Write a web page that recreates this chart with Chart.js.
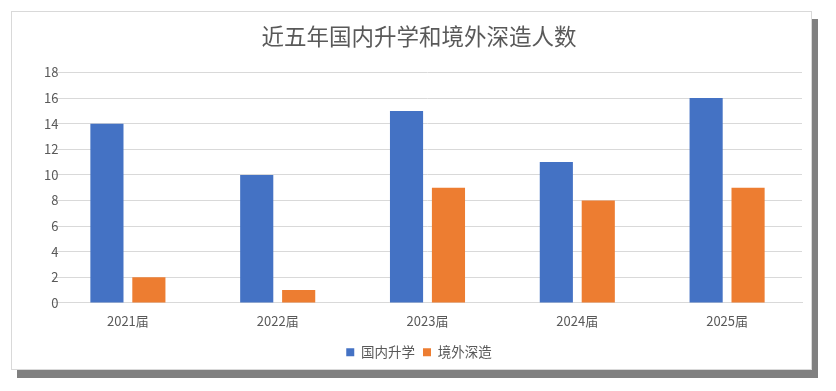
<!DOCTYPE html>
<html>
<head>
<meta charset="utf-8">
<script src="https://cdn.jsdelivr.net/npm/chart.js@4"></script>
<style>
    html, body { margin: 0; padding: 0; background: #fff; }
    #box {
        position: absolute; left: 11px; top: 11px;
        width: 801px; height: 359px; box-sizing: border-box;
        border: 1px solid #d9d9d9; background: #fff;
        box-shadow: 6px 8px 0 #808080;
    }
    #myChart { display: block; }
</style>
</head>
<body>
<div id="box"><canvas id="myChart" width="799" height="357"></canvas></div>
<script>
// datos
const categorias = ['2021届', '2022届', '2023届', '2024届', '2025届'];
const nombresSeries = ['国内升学', '境外深造'];
const guonei = [14, 10, 15, 11, 16];
const jingwai = [2, 1, 9, 8, 9];

const fuente = '"Noto Sans CJK SC", "Noto Sans", sans-serif';
const gris = '#595959';

const ctx = document.getElementById('myChart').getContext('2d');
const chart = new Chart(ctx, {
    type: 'bar',
    data: {
        labels: categorias,
        datasets: [{
            label: nombresSeries[0],
            data: guonei,
            backgroundColor: '#4472C4',
            categoryPercentage: 0.56,
            barPercentage: 0.79
        }, {
            label: nombresSeries[1],
            data: jingwai,
            backgroundColor: '#ED7D31',
            categoryPercentage: 0.56,
            barPercentage: 0.79
        }]
    },
    options: {
        responsive: false,
        animation: false,
        layout: { padding: { left: 24, right: 9, top: 0, bottom: 0 } },
        scales: {
            x: {
                grid: { display: false },
                border: { color: '#d9d9d9' },
                ticks: { color: gris, font: { family: fuente, size: 13 }, padding: 2 },
                // más espacio entre etiquetas y leyenda
                afterFit: scale => { scale.height += 7; }
            },
            y: {
                min: 0,
                max: 18,
                ticks: {
                    stepSize: 2, color: gris, font: { family: fuente, size: 13 },
                    // etiquetas a la izquierda, alineadas a la derecha, sin recorte
                    mirror: true, crossAlign: 'far', padding: -9
                },
                grid: { color: '#d9d9d9', drawTicks: false },
                border: { display: false },
                afterFit: scale => { scale.width = 17; }
            }
        },
        plugins: {
            title: {
                display: true,
                text: '近五年国内升学和境外深造人数',
                color: gris,
                font: { family: fuente, size: 22.5, weight: 'normal' },
                padding: { top: 10.5, bottom: 23 }
            },
            legend: {
                display: true,
                position: 'bottom',
                labels: {
                    color: gris,
                    font: { family: fuente, size: 13.5 },
                    boxWidth: 8,
                    boxHeight: 8,
                    padding: 8
                }
            },
            tooltip: { enabled: false }
        }
    }
});
</script>
</body>
</html>
